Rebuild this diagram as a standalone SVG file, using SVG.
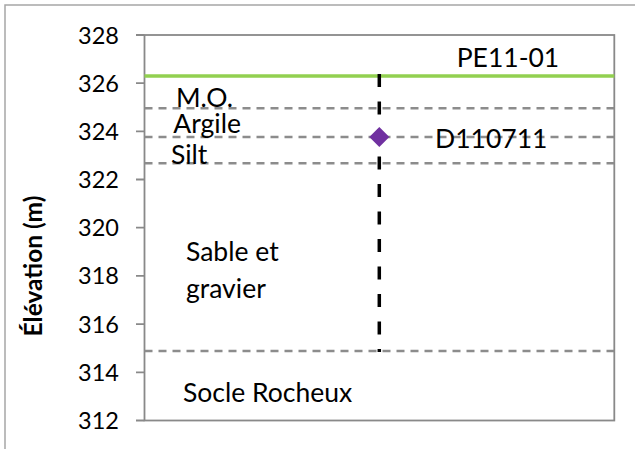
<svg xmlns="http://www.w3.org/2000/svg" width="635" height="449" viewBox="0 0 635 449">
  <style>
    .frame { fill: none; stroke: #a6a6a6; stroke-width: 1.5; }
    .axis { fill: none; stroke: #898989; stroke-width: 1.8; }
    .tick { font-family: Lato, "Liberation Sans", sans-serif; font-size: 23.5px; fill: #000; text-anchor: end; }
    .lbl { font-family: Lato, "Liberation Sans", sans-serif; font-size: 26.5px; fill: #000; }
    .title { font-family: Lato, "Liberation Sans", sans-serif; font-size: 24.5px; font-weight: bold; fill: #000; text-anchor: middle; }
    .layer { stroke: #8c8c8c; stroke-width: 2.4; stroke-dasharray: 8 6; fill: none; }
    .bore { stroke: #000; stroke-width: 3.5; stroke-dasharray: 13 14.5; stroke-linecap: butt; fill: none; }
    .ground { stroke: #92d050; stroke-width: 3.5; fill: none; }
  </style>

  <!-- chart frame -->
  <rect x="0" y="0" width="635" height="449" fill="#ffffff"/>
  <path class="frame" d="M5 449 V5 H635"/>

  <!-- plot area and axis -->
  <g id="plot-area">
    <rect class="axis" x="144.5" y="35" width="469.8" height="385.5"/>
    <path class="axis" d="M136 35 H144.5 M136 83.2 H144.5 M136 131.4 H144.5 M136 179.5 H144.5 M136 227.7 H144.5 M136 275.9 H144.5 M136 324.1 H144.5 M136 372.3 H144.5 M136 420.5 H144.5"/>
  </g>

  <g id="y-axis-labels">
    <text class="tick" x="119" y="43.5">328</text>
    <text class="tick" x="119" y="91.7">326</text>
    <text class="tick" x="119" y="139.9">324</text>
    <text class="tick" x="119" y="188">322</text>
    <text class="tick" x="119" y="236.2">320</text>
    <text class="tick" x="119" y="284.4">318</text>
    <text class="tick" x="119" y="332.6">316</text>
    <text class="tick" x="119" y="380.8">314</text>
    <text class="tick" x="119" y="429">312</text>
    <text class="title" transform="translate(42 266) rotate(-90)">Élévation (m)</text>
  </g>

  <!-- layer boundaries, ground surface and borehole -->
  <g id="connectors">
    <path class="layer" d="M144.5 108.3 H614.3"/>
    <path class="layer" d="M144.5 137 H614.3"/>
    <path class="layer" d="M144.5 163.3 H614.3"/>
    <path class="layer" d="M144.5 351 H614.3"/>
    <path class="ground" d="M144.5 76 H614.3"/>
    <path class="bore" d="M379.3 74 V352"/>
  </g>

  <g id="sample-D110711">
    <path d="M379.3 127 L389.3 137 L379.3 147 L369.3 137 Z" fill="#7030a0"/>
    <text class="lbl" x="435" y="147.7">D110711</text>
  </g>

  <g id="well-PE11-01">
    <text class="lbl" x="456.7" y="66.7">PE11-01</text>
  </g>

  <g id="layer-labels">
    <text class="lbl" x="176" y="106.7">M.O.</text>
    <text class="lbl" x="173.3" y="133.3">Argile</text>
    <text class="lbl" x="171" y="164.3">Silt</text>
    <text class="lbl" x="186" y="260.7">Sable et</text>
    <text class="lbl" x="186" y="298">gravier</text>
    <text class="lbl" x="183" y="401.7">Socle Rocheux</text>
  </g>
</svg>
